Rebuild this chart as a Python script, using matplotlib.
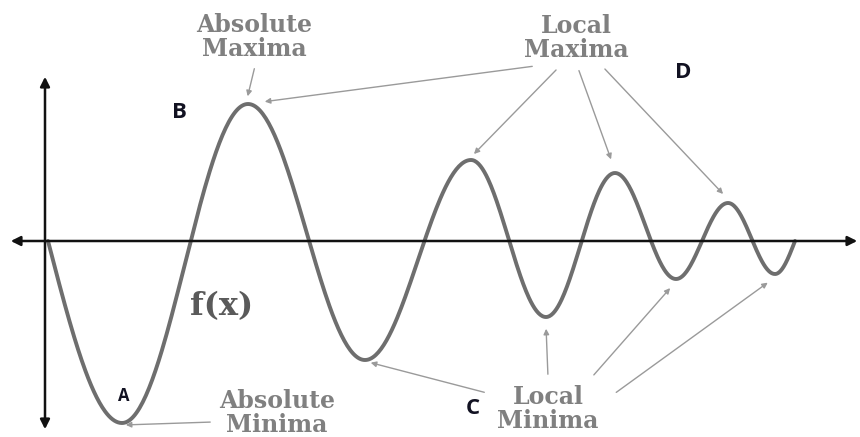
import numpy as np
import matplotlib.pyplot as plt

# curve: start point, alternating extrema, end point (x, y in screen-like units)
node_x = [48, 122, 248, 365, 471, 546, 615, 676, 728, 775, 795]
node_y = [241, 423, 104, 360, 160, 317, 173, 279, 203, 274, 241]

# annotation arrows: (tail x, tail y, head x, head y)
max_arrows = [(255, 66, 247, 99), (535, 66, 262, 102), (558, 68, 472, 156),
              (578, 68, 612, 162), (603, 67, 725, 196)]
min_arrows = [(213, 422, 123, 425), (487, 393, 368, 362), (548, 377, 546, 326),
              (592, 377, 672, 286), (614, 394, 770, 281)]

labels = [("Absolute\nMaxima", 254, 37), ("Local\nMaxima", 576, 38),
          ("Absolute\nMinima", 277, 413), ("Local\nMinima", 548, 409)]
letters = [("A", 124, 396, 12), ("B", 179, 112, 16), ("C", 473, 409, 16), ("D", 683, 72, 16)]

fig = plt.figure(figsize=(8.6, 4.37), dpi=100)
ax = fig.add_axes([0, 0, 1, 1])
ax.set_xlim(0, 860)
ax.set_ylim(437, 0)
ax.axis("off")

# quarter wave in and out, half-cosine between neighbouring extrema
xs, ys = [], []
n = len(node_x)
for i in range(n - 1):
    t = np.linspace(0, 1, 80)
    x0, x1 = node_x[i], node_x[i + 1]
    y0, y1 = node_y[i], node_y[i + 1]
    if i == 0:
        s = np.sin(np.pi / 2 * t)
    elif i == n - 2:
        s = 1 - np.cos(np.pi / 2 * t)
    else:
        s = (1 - np.cos(np.pi * t)) / 2
    xs.append(x0 + (x1 - x0) * t)
    ys.append(y0 + (y1 - y0) * s)
ax.plot(np.concatenate(xs), np.concatenate(ys), color="#6e6e6e", lw=2.8, solid_capstyle="round")

# coordinate axes with arrowheads
ax.annotate("", xy=(860, 241), xytext=(8, 241),
            arrowprops=dict(arrowstyle="<|-|>", color="#111111", lw=1.8, mutation_scale=14))
ax.annotate("", xy=(45, 74), xytext=(45, 432),
            arrowprops=dict(arrowstyle="<|-|>", color="#111111", lw=1.8, mutation_scale=14))

for x0, y0, x1, y1 in max_arrows + min_arrows:
    ax.annotate("", xy=(x1, y1), xytext=(x0, y0),
                arrowprops=dict(arrowstyle="-|>", color="#9a9a9a", lw=1.0, mutation_scale=8))

for txt, x, y in labels:
    ax.text(x, y, txt, ha="center", va="center", family="DejaVu Serif",
            fontweight="bold", fontsize=17, color="#808080", linespacing=1.0)

ax.text(222, 307, "f(x)", ha="center", va="center", family="DejaVu Serif",
        fontweight="bold", fontsize=23, color="#5a5a5a")

for txt, x, y, size in letters:
    ax.text(x, y, txt, ha="center", va="center", family="Open Sans",
            fontweight="bold", fontsize=size, color="#121222")

fig.savefig("out.png", dpi=100)
